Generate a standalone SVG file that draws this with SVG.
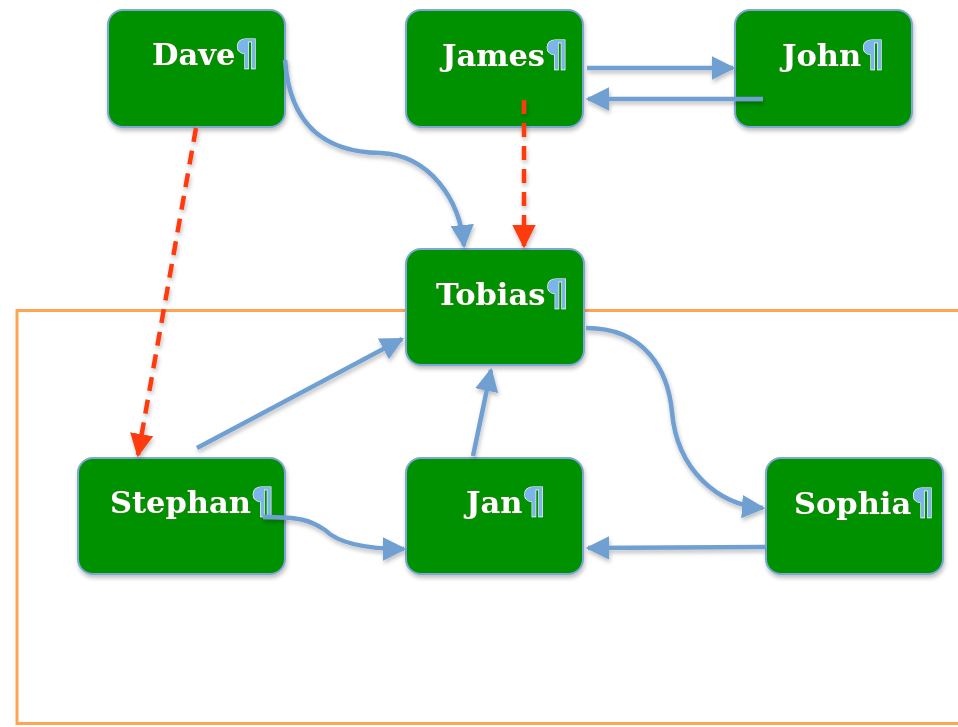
<svg xmlns="http://www.w3.org/2000/svg" width="958" height="727" viewBox="0 0 958 727">
<style>
.node rect{fill:#009100;stroke:#7ea6d6;stroke-width:2}
.lbl{font-family:"DejaVu Serif","Liberation Serif",serif;font-weight:bold;font-size:30.5px;fill:#ffffff;stroke:#6a6a30;stroke-width:0.5;paint-order:stroke}
.pil{font-family:"DejaVu Sans","Liberation Sans",sans-serif;font-weight:bold;font-size:36px;fill:#7db4ec;stroke:#ffffff;stroke-width:1.2}
.blue{fill:none;stroke:#6f9fd2;stroke-width:4.5}
.red{fill:none;stroke:#ff3a10;stroke-width:4.5;stroke-dasharray:14 9}
</style>
<defs>
<filter id="sh" x="-10%" y="-10%" width="130%" height="130%">
<feDropShadow dx="1" dy="3" stdDeviation="2" flood-color="#000" flood-opacity="0.25"/>
</filter>
<marker id="ab" viewBox="0 0 10 10" refX="9" refY="5" markerWidth="5.2" markerHeight="5.2" orient="auto" markerUnits="strokeWidth">
<path d="M0,0 L10,5 L0,10 Z" fill="#6f9fd2"/>
</marker>
<marker id="ar" viewBox="0 0 10 10" refX="9" refY="5" markerWidth="5.2" markerHeight="5.2" orient="auto" markerUnits="strokeWidth">
<path d="M0,0 L10,5 L0,10 Z" fill="#ff3a10"/>
</marker>
</defs>
<rect x="17" y="310.5" width="960" height="413" fill="none" stroke="#ffa453" stroke-width="3"/>
<g id="nodes" filter="url(#sh)">
<g id="dave" class="node"><rect x="108" y="10" width="177" height="117" rx="15"/><text x="152" y="65" class="lbl">Dave<tspan class="pil">¶</tspan></text></g>
<g id="james" class="node"><rect x="406" y="10" width="177" height="117" rx="15"/><text x="442" y="66" class="lbl">James<tspan class="pil">¶</tspan></text></g>
<g id="john" class="node"><rect x="735" y="10" width="177" height="117" rx="15"/><text x="782" y="66" class="lbl">John<tspan class="pil">¶</tspan></text></g>
<g id="tobias" class="node"><rect x="406" y="249" width="178" height="116" rx="15"/><text x="436" y="305" class="lbl">Tobias<tspan class="pil">¶</tspan></text></g>
<g id="stephan" class="node"><rect x="78" y="458" width="207" height="116" rx="15"/><text x="110" y="513" class="lbl">Stephan<tspan class="pil">¶</tspan></text></g>
<g id="jan" class="node"><rect x="406" y="458" width="177" height="116" rx="15"/><text x="466" y="513" class="lbl">Jan<tspan class="pil">¶</tspan></text></g>
<g id="sophia" class="node"><rect x="766" y="458" width="177" height="116" rx="15"/><text x="794" y="514" class="lbl">Sophia<tspan class="pil">¶</tspan></text></g>
</g>
<g id="connectors" filter="url(#sh)">
<path class="blue" d="M285,60 C290,130 330,152 380,153 C430,155 460,200 464,246" marker-end="url(#ab)"/>
<path class="red" d="M524,100 L524,246" marker-end="url(#ar)"/>
<path class="blue" d="M587,68 L733,68" marker-end="url(#ab)"/>
<path class="blue" d="M763,99 L588,99" marker-end="url(#ab)"/>
<path class="red" d="M196,128 L138,455" marker-end="url(#ar)"/>
<path class="blue" d="M197,448 L402,339" marker-end="url(#ab)"/>
<path class="blue" d="M473,456 L491,370" marker-end="url(#ab)"/>
<path class="blue" d="M586,328 C645,328 668,370 672,412 C677,470 718,505 763,508" marker-end="url(#ab)"/>
<path class="blue" d="M263,517 C300,517 310,520 325,530 C340,545 370,549 404,549" marker-end="url(#ab)"/>
<path class="blue" d="M765,547 L588,548" marker-end="url(#ab)"/>
</g>
</svg>
